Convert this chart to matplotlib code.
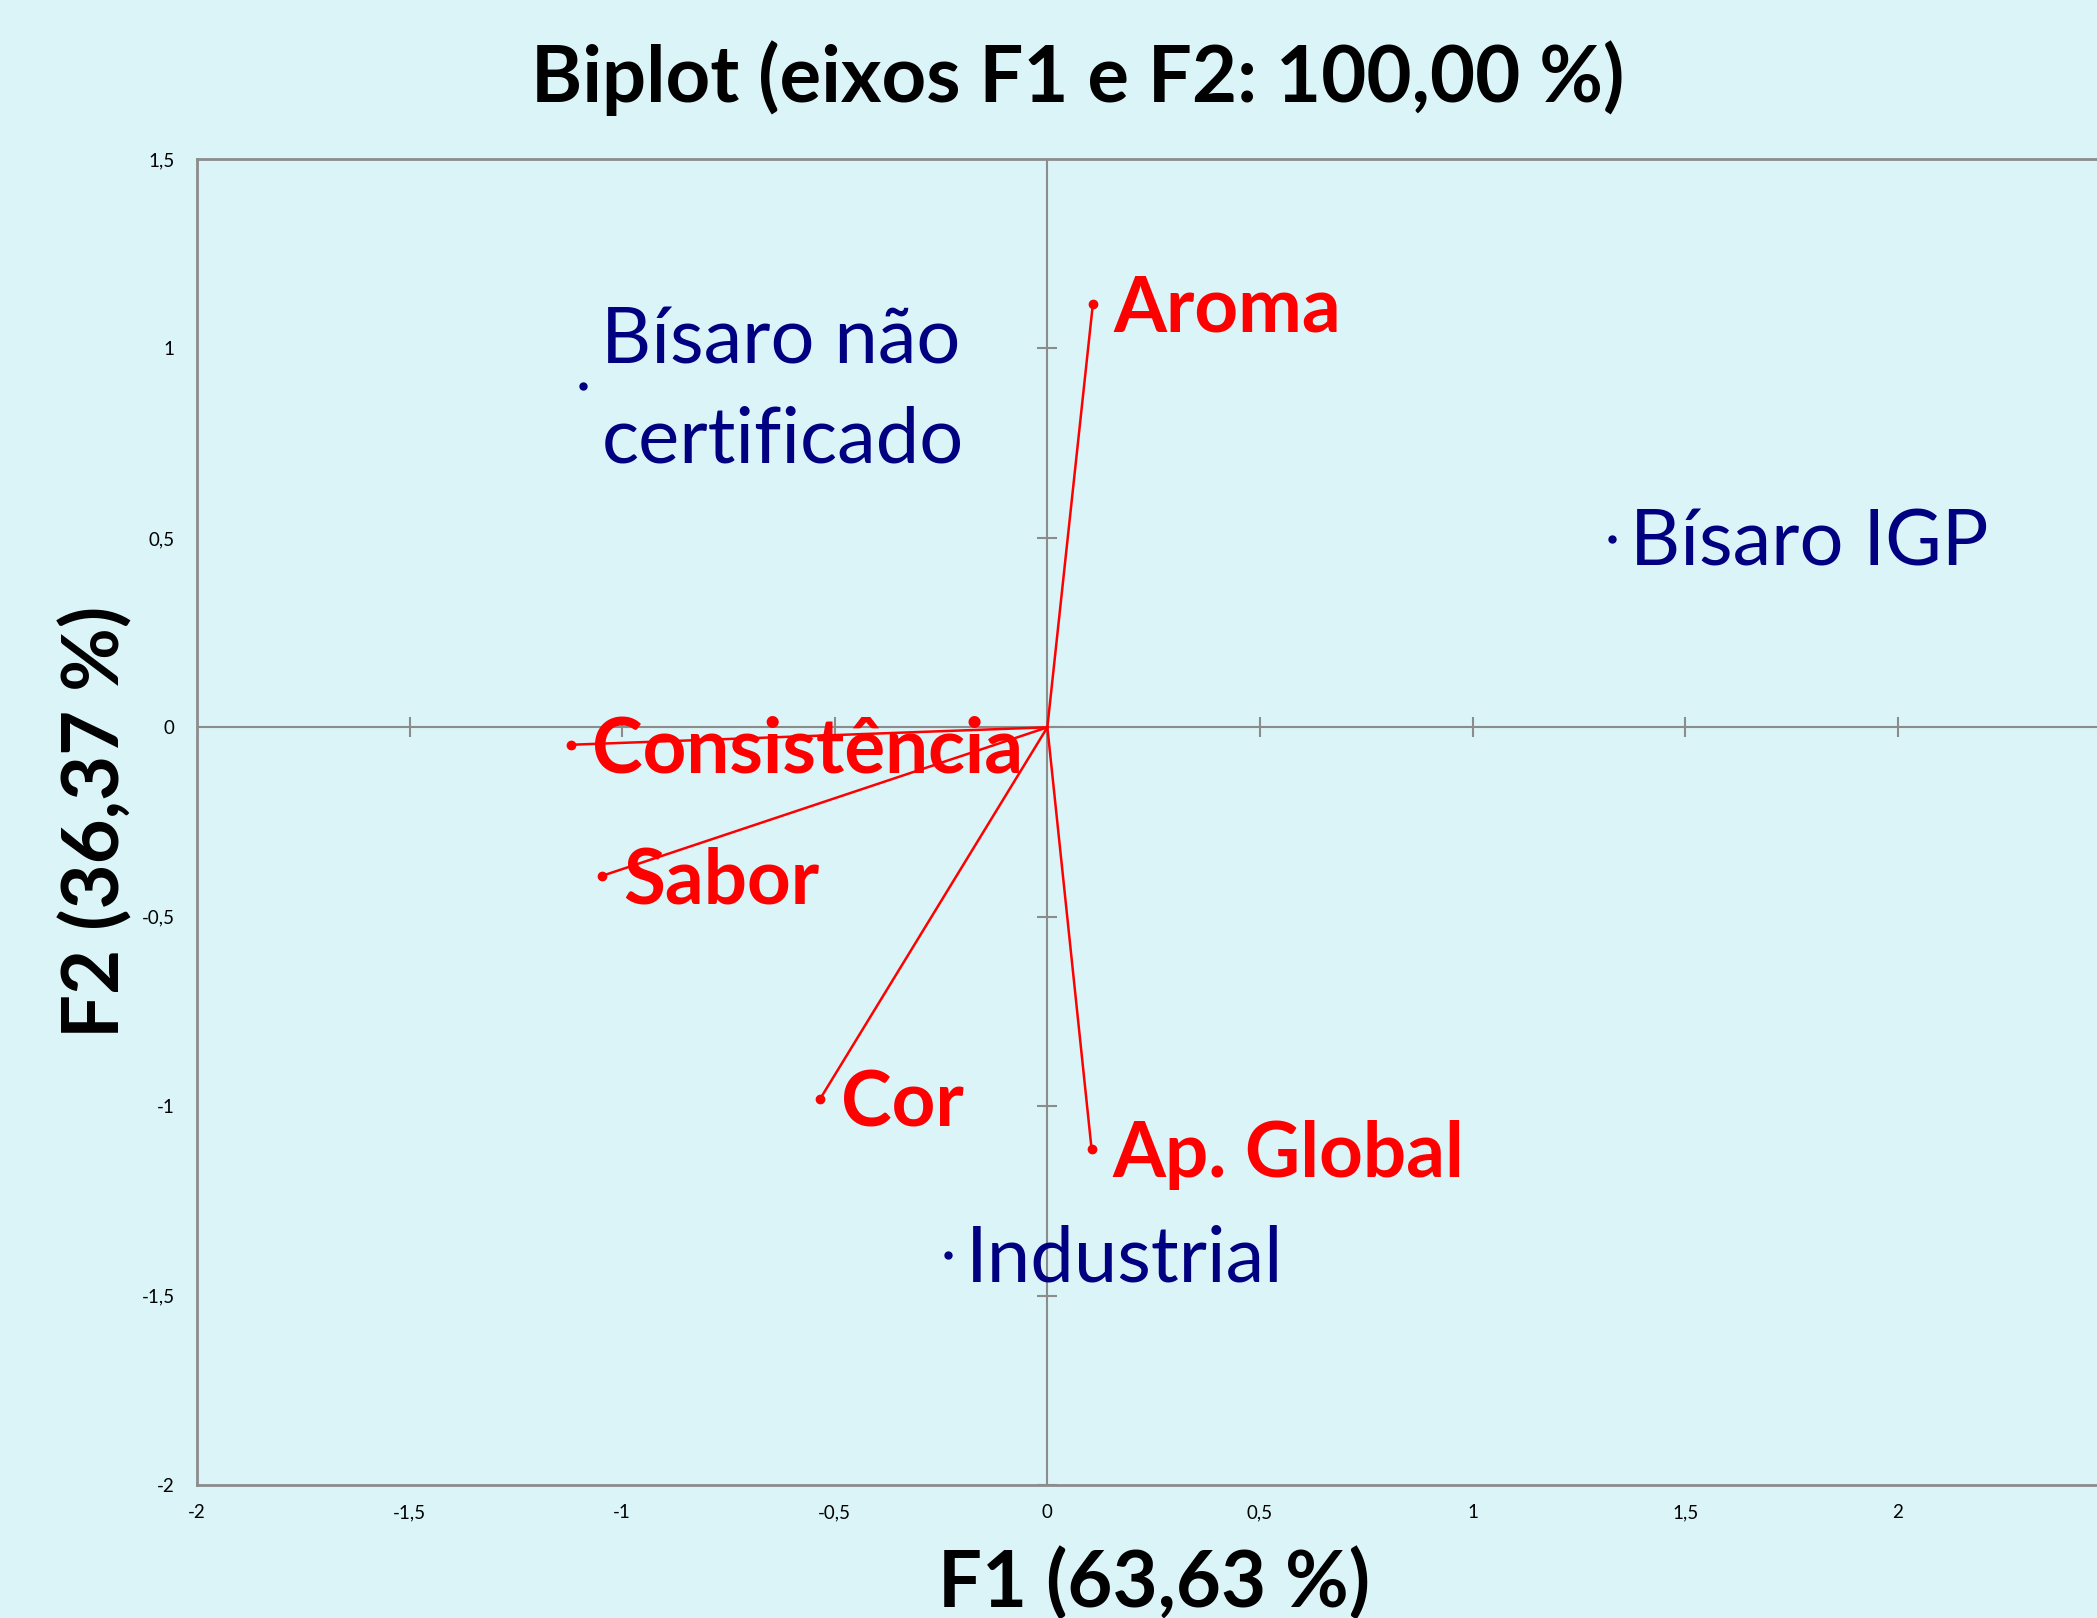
import matplotlib
matplotlib.use("Agg")
import matplotlib.pyplot as plt

plt.rcParams['font.family'] = ['Lato', 'DejaVu Sans']

bg = "#DBF4F8"
grey = "#8C8C8C"

# variables (loadings)
var_names = ["Aroma", "Consistência", "Sabor", "Cor", "Ap. Global"]
var_f1 = [0.107, -1.120, -1.047, -0.535, 0.104]
var_f2 = [1.117, -0.046, -0.392, -0.982, -1.113]

# observations
obs_names = ["Bísaro não\ncertificado", "Bísaro IGP", "Industrial"]
obs_f1 = [-1.091, 1.327, -0.233]
obs_f2 = [0.901, 0.498, -1.392]

xticks = [-2, -1.5, -1, -0.5, 0, 0.5, 1, 1.5, 2]
yticks = [-2, -1.5, -1, -0.5, 0, 0.5, 1, 1.5]

def fmt(v):
    s = ("%g" % v).replace(".", ",")
    return s

fig = plt.figure(figsize=(20.97, 16.18), dpi=100, facecolor=bg)
ax = fig.add_axes([0.0939, 0.0822, 0.9125, 0.8195], facecolor=bg)
ax.set_xlim(-2, 2.5)
ax.set_ylim(-2, 1.5)

for s in ax.spines.values():
    s.set_color(grey)
    s.set_linewidth(2)

ax.set_xticks(xticks)
ax.set_yticks(yticks)
ax.set_xticklabels([fmt(v) for v in xticks])
ax.set_yticklabels([fmt(v) for v in yticks])
ax.tick_params(length=0, labelsize=13.5, colors="black")
ax.tick_params(axis="x", pad=14)
ax.tick_params(axis="y", pad=16)

# zero axes with cross tick marks
ax.axhline(0, color=grey, lw=1.5, zorder=1)
ax.axvline(0, color=grey, lw=1.5, zorder=1)
ax.plot(xticks, [0] * len(xticks), ls="none", marker="|", ms=14, mew=1.5, color=grey, zorder=1)
ax.plot([0] * len(yticks), yticks, ls="none", marker="_", ms=14, mew=1.5, color=grey, zorder=1)

# variable vectors
for name, x, y in zip(var_names, var_f1, var_f2):
    ax.plot([0, x], [0, y], color="red", lw=1.8, zorder=3)
    ax.plot(x, y, "o", color="red", ms=6, zorder=3)
    ax.annotate(name, (x, y), xytext=(15, -4), textcoords="offset points",
                ha="left", va="center", color="red", fontsize=55, fontweight="bold", zorder=4)

# observations
for name, x, y in zip(obs_names, obs_f1, obs_f2):
    ax.plot(x, y, "o", color="#000080", ms=5, zorder=3)
    ax.annotate(name, (x, y), xytext=(13, -4), textcoords="offset points",
                ha="left", va="center", color="#000080", fontsize=56, zorder=4,
                linespacing=1.5)

fig.text(0.514, 0.952, "Biplot (eixos F1 e F2: 100,00 %)", ha="center", va="center",
         fontsize=56, fontweight="bold")
fig.text(0.5505, 0.021, "F1 (63,63 %)", ha="center", va="center", fontsize=56, fontweight="bold")
fig.text(0.046, 0.492, "F2 (36,37 %)", ha="center", va="center", rotation=90,
         fontsize=56, fontweight="bold")

fig.savefig("out.png", dpi=100, facecolor=bg)
